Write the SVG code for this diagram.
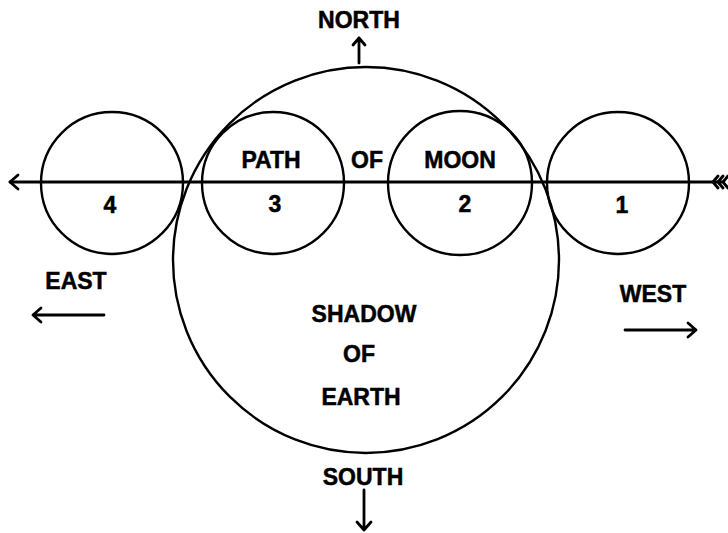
<svg xmlns="http://www.w3.org/2000/svg" width="728" height="533" viewBox="0 0 728 533">
<style>
.c{fill:none;stroke:#000;stroke-width:2.4}
.l{fill:none;stroke:#000;stroke-width:2.8;stroke-linecap:round;stroke-linejoin:round}
text{font-family:"Liberation Sans",Arial,sans-serif;font-weight:bold;font-size:23px;fill:#000;stroke:#000;stroke-width:0.5;text-anchor:middle}
</style>
<rect width="728" height="533" fill="#fff"/>
<g id="shadow">
<circle class="c" cx="366" cy="260" r="193"/>
<text x="364" y="322">SHADOW</text>
<text x="359" y="362">OF</text>
<text x="361" y="405">EARTH</text>
</g>
<g id="moon4"><circle class="c" cx="112" cy="183" r="71"/><text x="110" y="213">4</text></g>
<g id="moon3"><circle class="c" cx="273" cy="183" r="71"/><text x="275" y="212">3</text></g>
<g id="moon2"><circle class="c" cx="460" cy="183" r="72"/><text x="465" y="212">2</text></g>
<g id="moon1"><circle class="c" cx="618" cy="183" r="71"/><text x="622" y="213">1</text></g>
<g id="labels">
<text x="271" y="168">PATH</text>
<text x="367" y="168">OF</text>
<text x="460" y="168">MOON</text>
<text x="359" y="28">NORTH</text>
<text x="363" y="485">SOUTH</text>
<text x="76" y="289">EAST</text>
<text x="653" y="302">WEST</text>
</g>
<g id="connectors">
<path class="l" d="M10 182 H722"/>
<path class="l" d="M18 175 L10 182 L18 189"/>
<path class="l" d="M718 176 L713 182 L718 188 M723 176 L718 182 L723 188 M728 176 L723 182 L728 188"/>
<path class="l" d="M359 63 V38 M353 45 L359 38 L365 45"/>
<path class="l" d="M364 490 V530 M357 522 L364 530 L371 522"/>
<path class="l" d="M104 315 H33 M41 308 L33 315 L41 322"/>
<path class="l" d="M625 330 H696 M688 323 L696 330 L688 337"/>
</g>
</svg>
